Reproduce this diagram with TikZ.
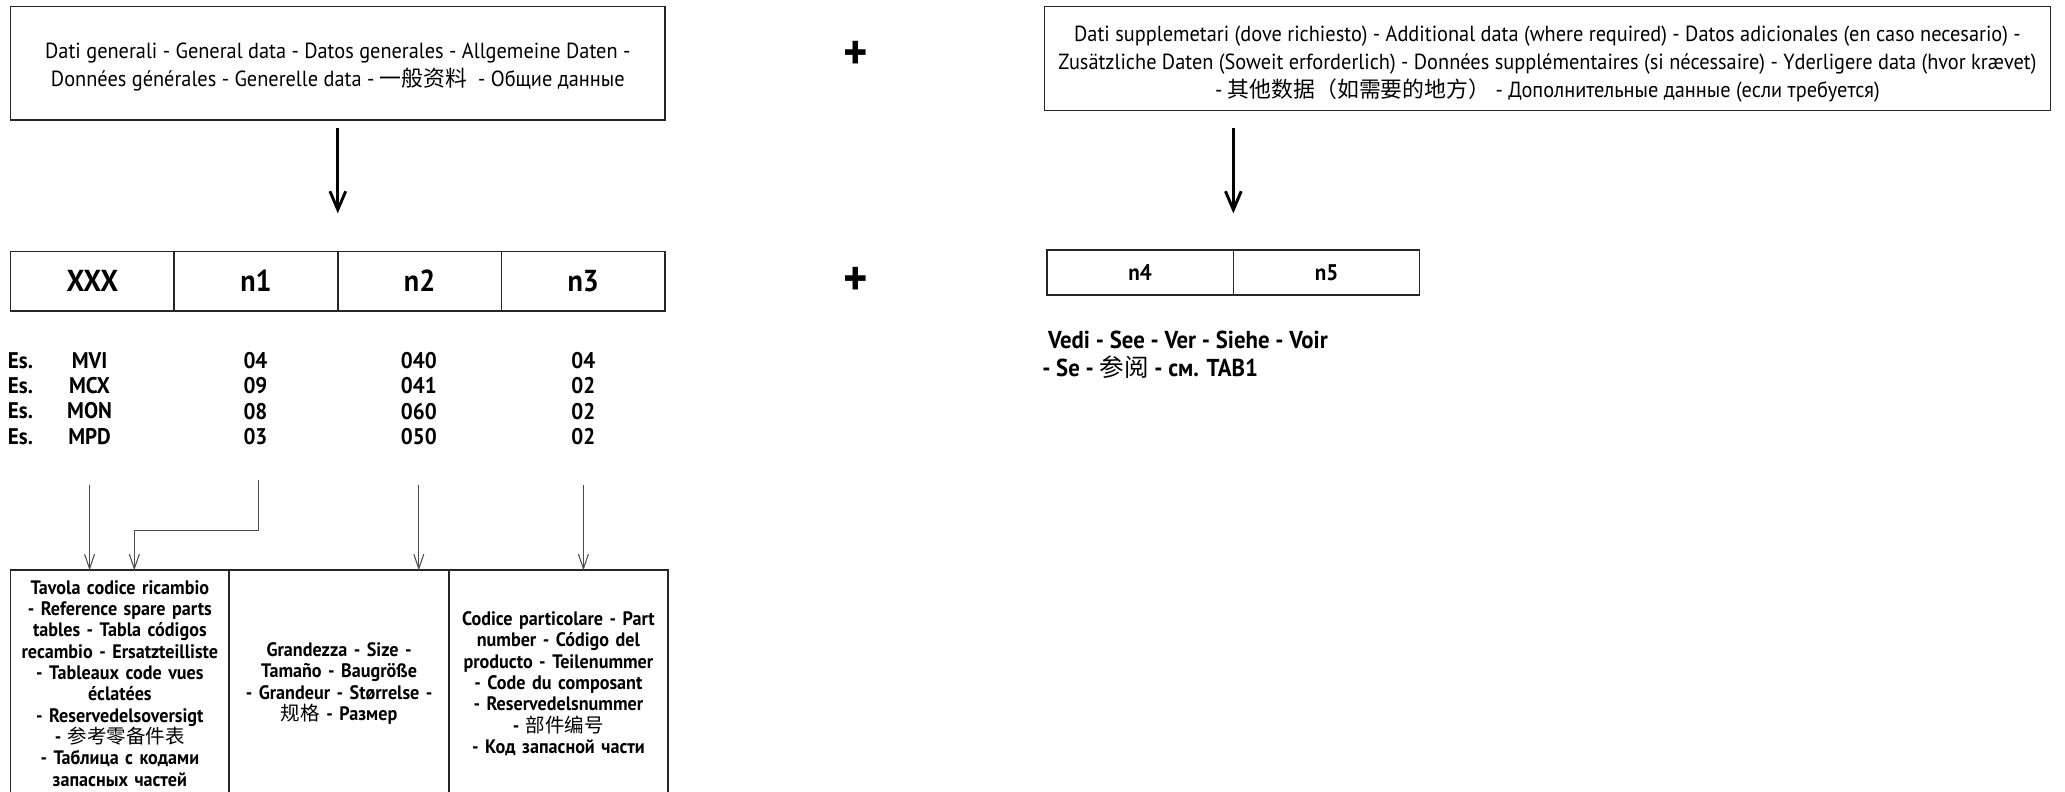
\documentclass[tikz,border=0pt]{standalone}
\usepackage{fontspec}
\setmainfont[FakeStretch=0.93]{PT Sans}
\newfontfamily\cjk{Noto Sans CJK SC}
\usetikzlibrary{positioning,arrows.meta}
\newcommand\zhtext[1]{{\cjk\mdseries #1}}

\begin{document}
\begin{tikzpicture}[x=0.5pt, y=-0.5pt,
    box/.style={draw=black!85, line width=0.6pt, align=center, inner sep=0pt, outer sep=0pt},
    titlebox/.style={box, font=\fontsize{8.3}{10.6}\selectfont},
    cell/.style={box, font=\fontsize{11.5}{13}\selectfont\bfseries, minimum width=62.125pt, minimum height=22.5pt},
    smallcell/.style={box, font=\fontsize{8.6}{10}\selectfont\bfseries, minimum width=70.75pt, minimum height=17pt},
    descbox/.style={box, font=\fontsize{7.4}{8.1}\selectfont\bfseries, minimum height=86pt, text width=82pt},
    column/.style={font=\fontsize{8.6}{9.65}\selectfont\bfseries, align=center, inner sep=0pt, anchor=north},
    plus/.style={font=\fontsize{19}{19}\selectfont\bfseries, inner sep=0pt},
    bigarrow/.style={-{Straight Barb[length=7pt, width=6pt]}, line width=1.1pt},
    thinarrow/.style={-{Straight Barb[length=5.5pt, width=3.8pt]}, line width=0.4pt, draw=black!70}]
  \useasboundingbox (0,0) rectangle (1568,601);
  \clip (0,0) rectangle (1568,601);

  % General data
  \node[titlebox, minimum width=248.5pt, minimum height=43pt] (gen) at (256.5,48)
    {\rule{0pt}{9pt}Dati generali - General data - Datos generales - Allgemeine Daten -\\
     Données générales - Generelle data - \zhtext{一般资料}\ \ - Общие данные};
  % Additional data
  \node[titlebox, minimum width=382pt, minimum height=39.5pt] (extra) at (1175,44.5)
    {\rule{0pt}{10pt}Dati supplemetari (dove richiesto) - Additional data (where required) - Datos adicionales (en caso necesario) -\\
     Zusätzliche Daten (Soweit erforderlich) - Données supplémentaires (si nécessaire) - Yderligere data (hvor krævet)\\
     - \zhtext{其他数据（如需要的地方）} - Дополнительные данные (если требуется)};
  \node[plus] (plus1) at (650,42) {+};
  \node[plus] (plus2) at (650,214) {+};

  % Code fields
  \node[cell] (xxx) at (70.125,213.5) {XXX};
  \node[cell, right=0pt of xxx] (n1) {n1};
  \node[cell, right=0pt of n1] (n2) {n2};
  \node[cell, right=0pt of n2] (n3) {n3};
  \node[smallcell] (n4) at (865.75,207) {n4};
  \node[smallcell, right=0pt of n4] (n5) {n5};
  \node[font=\fontsize{9.3}{10.5}\selectfont\bfseries, align=left, anchor=north west, inner sep=0pt] (see) at (791,251)
    {\ Vedi - See - Ver - Siehe - Voir\\- Se - \zhtext{参阅} - см. TAB1};

  % Examples
  \node[column] (es) at (15.5,267) {Es.\\Es.\\Es.\\Es.};
  \node[column] (code) at (68,267) {MVI\\MCX\\MON\\MPD};
  \node[column] (val1) at (194,267) {04\\09\\08\\03};
  \node[column] (val2) at (318,267) {040\\041\\060\\050};
  \node[column] (val3) at (443,267) {04\\02\\02\\02};

  % Meaning of the fields
  \node[descbox, minimum width=83pt] (ref) at (91,519)
    {Tavola codice ricambio\\- Reference spare parts\\tables - Tabla códigos\\recambio - Ersatzteilliste\\
     - Tableaux code vues\\éclatées\\- Reservedelsoversigt\\- \zhtext{参考零备件表}\\
     - Таблица с кодами\\запасных частей};
  \node[descbox, minimum width=83.5pt, right=0pt of ref] (size)
    {Grandezza - Size -\\Tamaño - Baugröße\\- Grandeur - Størrelse -\\\zhtext{规格} - Размер};
  \node[descbox, minimum width=83pt, right=0pt of size] (part)
    {Codice particolare - Part\\number - Código del\\producto - Teilenummer\\- Code du composant\\
     - Reservedelsnummer\\- \zhtext{部件编号}\\- Код запасной части};

  % Arrows
  \draw[bigarrow, shorten <=3pt, shorten >=14.5pt] (gen.south) -- (n1.north east);
  \draw[bigarrow, shorten <=6.5pt, shorten >=14pt] (extra.south -| n4.north east) -- (n4.north east);
  \coordinate (bend) at (102,403);
  \draw[thinarrow, shorten <=15pt] (code.south) -- (code.south |- ref.north);
  \draw[thinarrow, shorten <=13pt] ([xshift=1pt]val1.south) |- (bend) -- (bend |- ref.north);
  \draw[thinarrow, shorten <=15pt] (val2.south) -- (val2.south |- size.north);
  \draw[thinarrow, shorten <=15pt] (val3.south) -- (val3.south |- part.north);
\end{tikzpicture}
\end{document}
